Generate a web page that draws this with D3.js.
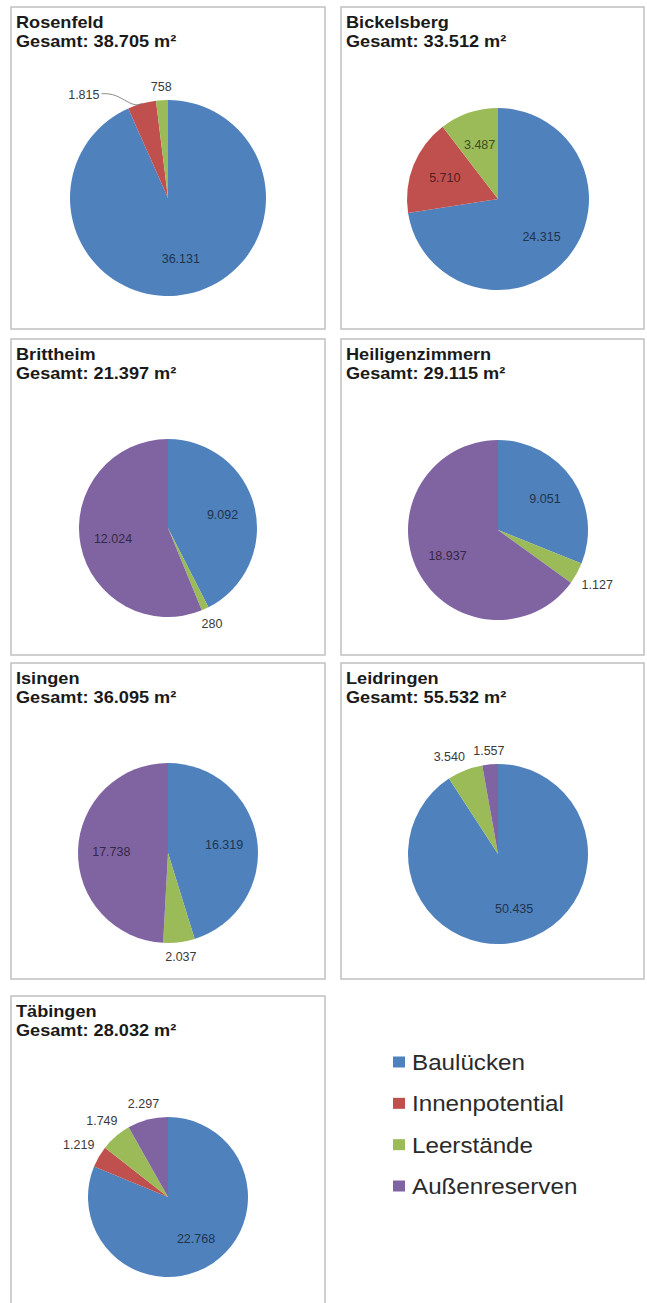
<!DOCTYPE html>
<html>
<head>
<meta charset="utf-8">
<script src="https://cdn.jsdelivr.net/npm/d3@7"></script>
<style>
  body { margin: 0; background: #fff; }
  text { font-family: "Liberation Sans", Arial, sans-serif; }
</style>
</head>
<body>
<div id="chart"></div>
<script>
// categories + values per place
const categories = ["Baulücken", "Innenpotential", "Leerstände", "Außenreserven"];
const places = ["Rosenfeld", "Bickelsberg", "Brittheim", "Heiligenzimmern", "Isingen", "Leidringen", "Täbingen"];
const totals = [38705, 33512, 21397, 29115, 36095, 55532, 28032];

const baulucken      = [36131, 24315,  9092,  9051, 16319, 50435, 22768];
const innenpotential = [ 1815,  5710,     0,     0,     0,     0,  1219];
const leerstaende    = [  758,  3487,   280,  1127,  2037,  3540,  1749];
const aussenreserven = [    0,     0, 12024, 18937, 17738,  1557,  2297];
const series = [baulucken, innenpotential, leerstaende, aussenreserven];

// layout of the panels
const colX = [11, 341], colW = [314, 303];
const rowY = [7, 339, 663, 996], rowH = [322, 316, 316, 314];
const pieCx = 157;
const pieCy = [191, 192, 189, 191, 190, 191, 201];
const pieR = [98, 91, 89, 90, 90, 90, 80];

const stretch = 1.1;
const fmt = d3.formatLocale({decimal: ",", thousands: ".", grouping: [3], currency: ["", ""]}).format(",d");

var color = d3.scaleOrdinal()
  .domain(categories)
  .range(["#4F81BD", "#C0504D", "#9BBB59", "#8064A2"]);

var svg = d3.select("#chart")
  .append("svg")
    .attr("width", 647)
    .attr("height", 1303)
    .style("background", "#fff");

var pie = d3.pie().sort(null).value(d => d.value);

places.forEach((name, i) => {
  const col = i % 2, row = Math.floor(i / 2);
  const g = svg.append("g").attr("transform", `translate(${colX[col]},${rowY[row]})`);

  g.append("rect")
    .attr("width", colW[col]).attr("height", rowH[row])
    .attr("fill", "#fff").attr("stroke", "#c0c0c0").attr("stroke-width", 1.5);

  g.append("text")
    .attr("transform", `translate(5,21) scale(${stretch},1)`)
    .attr("font-size", 16.5).attr("font-weight", "bold").attr("fill", "#1a1a1a")
    .text(name);
  g.append("text")
    .attr("transform", `translate(5,40) scale(${stretch},1)`)
    .attr("font-size", 16.5).attr("font-weight", "bold").attr("fill", "#1a1a1a")
    .text(`Gesamt: ${fmt(totals[i])} m²`);

  const r = pieR[i];
  const slices = categories.map((c, k) => ({cat: c, value: series[k][i]})).filter(d => d.value > 0);
  const arcs = pie(slices);
  const arc = d3.arc().innerRadius(0).outerRadius(r);

  const pg = g.append("g").attr("transform", `translate(${pieCx},${pieCy[i]})`);
  pg.selectAll("path")
    .data(arcs)
    .join("path")
      .attr("d", arc)
      .attr("fill", d => color(d.data.cat));

  // labels: big slices inside, small ones outside ("best fit")
  const outside = [];
  arcs.forEach(a => {
    const span = a.endAngle - a.startAngle;
    const frac = span / (2 * Math.PI);
    const mid = (a.startAngle + a.endAngle) / 2;
    const t = pg.append("text")
      .attr("font-size", 12.5)
      .attr("text-anchor", "middle")
      .attr("dy", "0.35em")
      .text(fmt(a.data.value));
    const w = t.node().getComputedTextLength();
    if (frac >= 0.09) {
      const c = d3.arc().innerRadius(r * 0.63).outerRadius(r * 0.63).centroid(a);
      t.attr("x", c[0]).attr("y", c[1]).attr("fill", d3.color(color(a.data.cat)).darker(2.5));
    } else {
      t.attr("fill", "#3a3a3a");
      outside.push({t, w, mid, span, a});
    }
  });

  function place(o, ang) {
    const sx = Math.abs(Math.sin(ang)), cy = Math.abs(Math.cos(ang));
    const R = r + 7 + sx * o.w / 2 + cy * 5.5;
    const c = d3.arc().innerRadius(R).outerRadius(R).centroid({startAngle: ang, endAngle: ang});
    o.x = c[0]; o.y = c[1];
  }
  function hit(o, p, gap) {
    return o.x - o.w / 2 - gap < p.x + p.w / 2 && o.x + o.w / 2 + gap > p.x - p.w / 2 &&
           Math.abs(o.y - p.y) < 10;
  }

  // labels near 12 o'clock first, then going back counter-clockwise
  outside.sort((a, b) => b.mid - a.mid);
  const placed = [];
  outside.forEach(o => {
    place(o, o.mid);
    const other = placed.find(p => hit(o, p, 8));
    if (other) {
      if (o.w > o.span * r) {
        // slice too thin for the label: push it sideways, leader line to the slice
        o.x = other.x - other.w / 2 - o.w * 1.5 - 20;
        o.y += 7;
        o.leader = true;
      } else {
        let ang = o.mid;
        while (placed.some(p => hit(o, p, 8)) && ang > o.mid - 1) {
          ang -= Math.PI / 180;
          place(o, ang);
        }
      }
    }
    placed.push(o);
    o.t.attr("x", o.x).attr("y", o.y);
    if (o.leader) {
      const e = d3.arc().innerRadius(r).outerRadius(r).centroid({startAngle: o.mid, endAngle: o.mid});
      pg.append("path")
        .attr("d", d3.line().curve(d3.curveBasis)([[o.x + o.w / 2 + 2, o.y - 1], [o.x + o.w / 2 + 16, o.y - 1], [e[0] - 8, e[1] + 3], e]))
        .attr("fill", "none").attr("stroke", "#6f6f6f").attr("stroke-width", 0.8);
    }
  });
});

// legend
var ly = d3.scalePoint().domain(categories).range([1062, 1186]);
var lg = svg.append("g").selectAll("g")
  .data(categories)
  .join("g")
    .attr("transform", d => `translate(393,${ly(d)})`);
lg.append("rect")
  .attr("y", -5.5).attr("width", 12).attr("height", 11)
  .attr("fill", d => color(d));
lg.append("text")
  .attr("transform", `translate(19,8) scale(${stretch},1)`)
  .attr("font-size", 22).attr("fill", "#2a2a2a")
  .text(d => d);
</script>
</body>
</html>
